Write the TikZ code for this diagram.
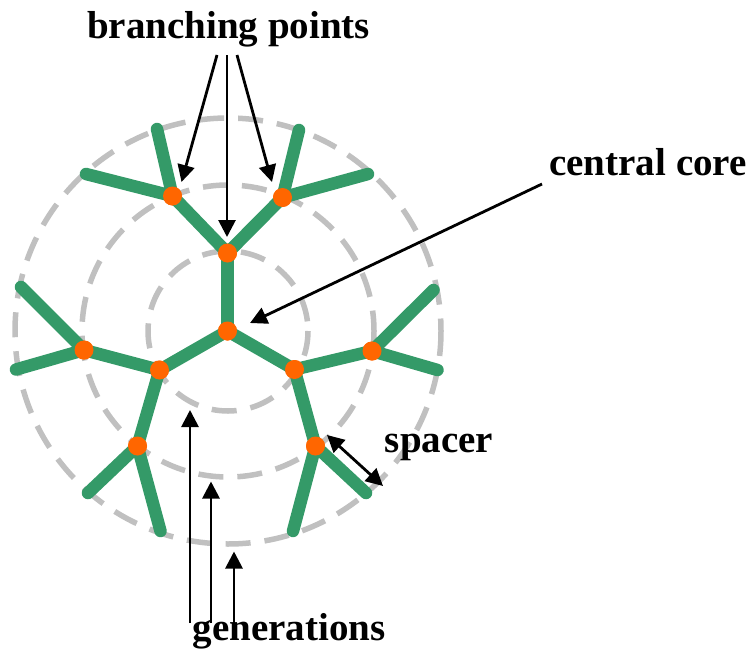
\documentclass[tikz,border=0pt]{standalone}
\usepackage{fontspec}
\setmainfont{Liberation Serif}
\usetikzlibrary{arrows.meta}
\definecolor{dendgreen}{RGB}{52,154,104}
\definecolor{dotorange}{RGB}{255,102,0}
\definecolor{ringgray}{RGB}{192,192,192}
\tikzset{
  ring/.style={draw=ringgray, line width=5.5pt, dash pattern=on 25pt off 14pt},
  arm/.style={draw=dendgreen, line width=12.5pt, line cap=round},
  bpoint/.style={circle, fill=dotorange, inner sep=0pt, minimum size=19pt},
  ptr/.style={draw=black, line width=2.8pt, -{Triangle[length=17pt,width=17pt]}},
  dptr/.style={draw=black, line width=2.8pt, {Triangle[length=17pt,width=17pt]}-{Triangle[length=17pt,width=17pt]}},
  lbl/.style={font=\fontsize{39}{44}\selectfont\bfseries, anchor=base, inner sep=0pt}
}
\begin{document}
\begin{tikzpicture}[x=1pt,y=-1pt]
\useasboundingbox (0,0) rectangle (751,661);
% rings
\coordinate (ctr) at (228,331);
\draw[ring] (ctr) circle[radius=80];
\draw[ring] (ctr) circle[radius=146];
\draw[ring] (ctr) circle[radius=213];
% branching points
\node[bpoint] (c0) at (227.5,331) {};
\node[bpoint] (n1) at (227.5,253) {};
\node[bpoint] (n2) at (159.5,370) {};
\node[bpoint] (n3) at (294.5,369.5) {};
\node[bpoint] (ul) at (172.5,196) {};
\node[bpoint] (ur) at (282.5,197.5) {};
\node[bpoint] (lo) at (84,350) {};
\node[bpoint] (ll) at (137.5,446) {};
\node[bpoint] (ro) at (372,351) {};
\node[bpoint] (lr) at (315.5,446) {};
% free ends
\coordinate (ul1) at (157,129);
\coordinate (ul2) at (86,174);
\coordinate (ur1) at (299,130);
\coordinate (ur2) at (368,174);
\coordinate (lo1) at (21,287);
\coordinate (lo2) at (16,369.5);
\coordinate (ro1) at (433.5,290);
\coordinate (ro2) at (437.5,370);
\coordinate (ll1) at (88,493);
\coordinate (ll2) at (160.5,531);
\coordinate (lr1) at (366,493);
\coordinate (lr2) at (293,531);
% arms
\draw[arm] (c0.center) -- (n1.center);
\draw[arm] (c0.center) -- (n2.center);
\draw[arm] (c0.center) -- (n3.center);
\draw[arm] (n1.center) -- (ul.center);
\draw[arm] (n1.center) -- (ur.center);
\draw[arm] (n2.center) -- (lo.center);
\draw[arm] (n2.center) -- (ll.center);
\draw[arm] (n3.center) -- (ro.center);
\draw[arm] (n3.center) -- (lr.center);
\draw[arm] (ul.center) -- (ul1);
\draw[arm] (ul.center) -- (ul2);
\draw[arm] (ur.center) -- (ur1);
\draw[arm] (ur.center) -- (ur2);
\draw[arm] (lo.center) -- (lo1);
\draw[arm] (lo.center) -- (lo2);
\draw[arm] (ro.center) -- (ro1);
\draw[arm] (ro.center) -- (ro2);
\draw[arm] (ll.center) -- (ll1);
\draw[arm] (ll.center) -- (ll2);
\draw[arm] (lr.center) -- (lr1);
\draw[arm] (lr.center) -- (lr2);
% dots on top of the arms
\foreach \p in {c0,n1,n2,n3,ul,ur,lo,ll,ro,lr}
  \fill[dotorange] (\p.center) circle[radius=9.5];
% labels
\node[lbl] (tbp) at (228.5,39) {branching points};
\node[lbl] (tcc) at (648,175) {central core};
\node[lbl] (tsp) at (439,452) {spacer};
\node[lbl] (tgen) at (289,640) {generations};
% branching-point pointers
\coordinate (bpa) at (217,55);
\coordinate (bpb) at (227,55);
\coordinate (bpc) at (237,55);
\coordinate (bpta) at (181.5,182);
\coordinate (bptb) at (227,237);
\coordinate (bptc) at (272,182);
\draw[ptr] (bpa) -- (bpta);
\draw[ptr] (bpb) -- (bptb);
\draw[ptr] (bpc) -- (bptc);
% central core pointer
\coordinate (cca) at (542,184);
\coordinate (cct) at (250,323);
\draw[ptr] (cca) -- (cct);
% spacer
\coordinate (spa) at (327,435);
\coordinate (spb) at (383,486);
\draw[dptr] (spa) -- (spb);
% generations
\coordinate (ga) at (190,623);
\coordinate (gb) at (211,623);
\coordinate (gc) at (234,623);
\coordinate (gta) at (190,410);
\coordinate (gtb) at (211,481.5);
\coordinate (gtc) at (234,551.5);
\draw[ptr] (ga) -- (gta);
\draw[ptr] (gb) -- (gtb);
\draw[ptr] (gc) -- (gtc);
\end{tikzpicture}
\end{document}
